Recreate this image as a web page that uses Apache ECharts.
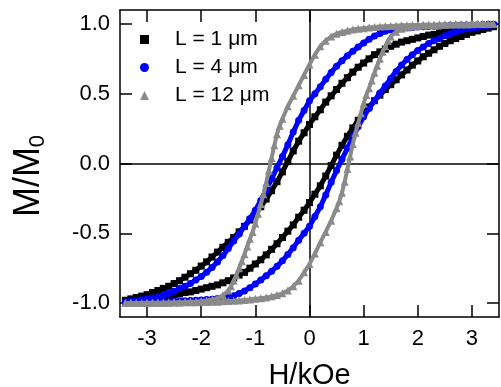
<!DOCTYPE html>
<html>
<head>
<meta charset="utf-8">
<script src="https://cdn.jsdelivr.net/npm/echarts@6/dist/echarts.min.js"></script>
<style>
html,body{margin:0;padding:0;background:#fff;}
#c{width:501px;height:387px;}
</style>
</head>
<body>
<div id="c"></div>
<script>
// Field sweep (kOe), shared by L = 1 and L = 4 um loops
const hGrid = [-3.4,-3.3,-3.2,-3.1,-3.0,-2.9,-2.8,-2.7,-2.6,-2.5,-2.4,-2.3,-2.2,-2.1,-2.0,-1.9,-1.8,-1.7,-1.6,-1.5,-1.4,-1.3,-1.2,-1.1,-1.0,-0.9,-0.8,-0.7,-0.6,-0.5,-0.4,-0.3,-0.2,-0.1,0,0.1,0.2,0.3,0.4,0.5,0.6,0.7,0.8,0.9,1.0,1.1,1.2,1.3,1.4,1.5,1.6,1.7,1.8,1.9,2.0,2.1,2.2,2.3,2.4,2.5,2.6,2.7,2.8,2.9,3.0,3.1,3.2,3.3,3.4];

// L = 1 um : descending (from +H) and ascending branches, values at hGrid
const l1Down = [-0.98,-0.97,-0.96,-0.95,-0.94,-0.925,-0.91,-0.895,-0.88,-0.86,-0.84,-0.815,-0.79,-0.765,-0.735,-0.705,-0.67,-0.635,-0.60,-0.565,-0.53,-0.49,-0.45,-0.405,-0.36,-0.31,-0.255,-0.195,-0.13,-0.06,0.015,0.09,0.16,0.22,0.28,0.335,0.385,0.44,0.485,0.53,0.575,0.615,0.655,0.69,0.72,0.75,0.78,0.80,0.82,0.84,0.855,0.87,0.88,0.89,0.90,0.91,0.92,0.925,0.935,0.94,0.95,0.955,0.96,0.965,0.97,0.975,0.98,0.985,0.99];
const l1Up = [-0.99,-0.985,-0.98,-0.975,-0.97,-0.965,-0.96,-0.955,-0.95,-0.94,-0.935,-0.925,-0.92,-0.91,-0.90,-0.89,-0.88,-0.87,-0.855,-0.84,-0.82,-0.80,-0.78,-0.75,-0.72,-0.69,-0.655,-0.615,-0.575,-0.53,-0.485,-0.44,-0.385,-0.335,-0.28,-0.22,-0.16,-0.09,-0.015,0.06,0.13,0.195,0.255,0.31,0.36,0.405,0.45,0.49,0.53,0.565,0.60,0.635,0.67,0.705,0.735,0.765,0.79,0.815,0.84,0.86,0.88,0.895,0.91,0.925,0.94,0.95,0.96,0.97,0.98];

// L = 4 um
const l4Down = [-0.992,-0.988,-0.983,-0.977,-0.97,-0.963,-0.955,-0.945,-0.93,-0.915,-0.895,-0.88,-0.86,-0.835,-0.81,-0.78,-0.745,-0.705,-0.66,-0.61,-0.555,-0.505,-0.45,-0.395,-0.335,-0.265,-0.19,-0.11,-0.03,0.05,0.135,0.225,0.31,0.38,0.45,0.50,0.55,0.603,0.652,0.697,0.737,0.772,0.805,0.835,0.863,0.89,0.913,0.932,0.948,0.957,0.963,0.968,0.972,0.975,0.978,0.98,0.982,0.984,0.986,0.988,0.99,0.991,0.992,0.993,0.994,0.995,0.996,0.997,0.998];
const l4Up = [-0.998,-0.997,-0.996,-0.995,-0.994,-0.993,-0.992,-0.991,-0.99,-0.988,-0.986,-0.984,-0.982,-0.98,-0.978,-0.975,-0.972,-0.968,-0.963,-0.957,-0.948,-0.932,-0.913,-0.89,-0.863,-0.835,-0.805,-0.772,-0.737,-0.697,-0.652,-0.603,-0.55,-0.50,-0.45,-0.38,-0.31,-0.225,-0.135,-0.05,0.03,0.11,0.19,0.265,0.335,0.395,0.45,0.505,0.555,0.61,0.66,0.705,0.745,0.78,0.81,0.835,0.86,0.88,0.895,0.915,0.93,0.945,0.955,0.963,0.97,0.977,0.983,0.988,0.992];

// L = 12 um : finer field steps through the steep switching parts
const l12DownH = [-3.4,-3.3,-3.2,-3.1,-3.0,-2.9,-2.8,-2.7,-2.6,-2.5,-2.4,-2.3,-2.2,-2.1,-2.0,-1.9,-1.8,-1.7,-1.6,-1.5,-1.45,-1.4,-1.35,-1.3,-1.25,-1.2,-1.15,-1.1,-1.05,-1.0,-0.95,-0.9,-0.85,-0.8,-0.75,-0.7,-0.65,-0.6,-0.55,-0.5,-0.4,-0.3,-0.2,-0.1,0,0.1,0.2,0.3,0.4,0.5,0.6,0.7,0.8,0.9,1.0,1.1,1.2,1.3,1.4,1.5,1.6,1.7,1.8,1.9,2.0,2.1,2.2,2.3,2.4,2.5,2.6,2.7,2.8,2.9,3.0,3.1,3.2,3.3,3.4];
const l12Down = [-1.0,-1.0,-0.999,-0.999,-0.998,-0.998,-0.997,-0.997,-0.996,-0.995,-0.994,-0.993,-0.991,-0.989,-0.986,-0.982,-0.975,-0.965,-0.945,-0.91,-0.88,-0.84,-0.80,-0.75,-0.70,-0.65,-0.595,-0.54,-0.49,-0.43,-0.36,-0.29,-0.22,-0.14,-0.05,0.04,0.13,0.21,0.27,0.32,0.41,0.485,0.56,0.635,0.71,0.78,0.84,0.88,0.91,0.93,0.943,0.952,0.96,0.965,0.97,0.974,0.978,0.981,0.984,0.986,0.988,0.99,0.991,0.992,0.993,0.994,0.995,0.995,0.996,0.996,0.997,0.997,0.998,0.998,0.999,0.999,1.0,1.0,1.0];
const l12UpH = [-3.4,-3.3,-3.2,-3.1,-3.0,-2.9,-2.8,-2.7,-2.6,-2.5,-2.4,-2.3,-2.2,-2.1,-2.0,-1.9,-1.8,-1.7,-1.6,-1.5,-1.4,-1.3,-1.2,-1.1,-1.0,-0.9,-0.8,-0.7,-0.6,-0.5,-0.4,-0.3,-0.2,-0.1,0,0.1,0.2,0.3,0.4,0.5,0.55,0.6,0.65,0.7,0.75,0.8,0.85,0.9,0.95,1.0,1.05,1.1,1.15,1.2,1.25,1.3,1.35,1.4,1.45,1.5,1.6,1.7,1.8,1.9,2.0,2.1,2.2,2.3,2.4,2.5,2.6,2.7,2.8,2.9,3.0,3.1,3.2,3.3,3.4];
const l12Up = [-1.0,-1.0,-1.0,-0.999,-0.999,-0.998,-0.998,-0.997,-0.997,-0.996,-0.996,-0.995,-0.995,-0.994,-0.993,-0.992,-0.991,-0.99,-0.988,-0.986,-0.984,-0.981,-0.978,-0.974,-0.97,-0.965,-0.96,-0.952,-0.943,-0.93,-0.91,-0.88,-0.84,-0.78,-0.72,-0.645,-0.565,-0.49,-0.41,-0.32,-0.27,-0.21,-0.13,-0.04,0.05,0.14,0.22,0.29,0.36,0.43,0.49,0.54,0.595,0.65,0.70,0.75,0.80,0.84,0.88,0.91,0.945,0.965,0.975,0.982,0.986,0.989,0.991,0.993,0.994,0.995,0.996,0.997,0.997,0.998,0.998,0.999,0.999,1.0,1.0];

const seriesNames = ['L = 1 \u03bcm', 'L = 4 \u03bcm', 'L = 12 \u03bcm'];
const xTicks = [-3, -2, -1, 0, 1, 2, 3];
const yTicks = [-1.0, -0.5, 0.0, 0.5, 1.0];

function loop(hDown, mDown, hUp, mUp) {
  const d = [];
  for (let i = hDown.length - 1; i >= 0; i--) d.push([hDown[i], mDown[i]]);
  for (let i = 0; i < hUp.length; i++) d.push([hUp[i], mUp[i]]);
  return d;
}

const chart = echarts.init(document.getElementById('c'), null, {renderer: 'canvas'});
const FONT = 'Liberation Sans, Arial, sans-serif';
const axisCommon = {
  type: 'value',
  axisLine: {show: true, onZero: false, lineStyle: {color: '#000', width: 1.5}},
  axisTick: {show: true, inside: true, length: 12, lineStyle: {color: '#000', width: 1.5}},
  splitLine: {show: false}
};
const option = {
  animation: false,
  backgroundColor: '#fff',
  grid: {left: 120, right: 2, top: 10, bottom: 70, containLabel: false, outerBoundsMode: 'none'},
  legend: {
    orient: 'vertical', left: 135, top: 24, itemGap: 7,
    itemWidth: 9, itemHeight: 9,
    textStyle: {fontFamily: FONT, fontSize: 21, color: '#000', lineHeight: 20, padding: [0, 0, 0, 21]},
    data: [
      {name: seriesNames[0], icon: 'rect', itemStyle: {color: '#000'}},
      {name: seriesNames[1], icon: 'circle', itemStyle: {color: '#0000ff'}},
      {name: seriesNames[2], icon: 'triangle', itemStyle: {color: '#8a8a8a'}}
    ]
  },
  graphic: [{
    type: 'text', x: 29, y: 176, rotation: Math.PI / 2,
    style: {
      text: '{m|M/M}{s|0}', align: 'center', verticalAlign: 'middle',
      rich: {
        m: {fontFamily: FONT, fontSize: 36, fill: '#000', lineHeight: 40},
        s: {fontFamily: FONT, fontSize: 22, fill: '#000', verticalAlign: 'bottom', padding: [16, 0, 0, 0], lineHeight: 22}
      }
    }
  }],
  xAxis: [
    Object.assign({}, axisCommon, {
      position: 'bottom', min: -3.5, max: 3.5,
      axisTick: Object.assign({}, axisCommon.axisTick, {customValues: xTicks}),
      axisLabel: {customValues: xTicks, margin: 11, fontFamily: FONT, fontSize: 22, color: '#000',
        formatter: v => String(v)},
      name: 'H/kOe', nameLocation: 'middle', nameGap: 44,
      nameTextStyle: {fontFamily: FONT, fontSize: 29, color: '#000'}
    }),
    Object.assign({}, axisCommon, {
      position: 'top', min: -3.5, max: 3.5,
      axisTick: Object.assign({}, axisCommon.axisTick, {customValues: xTicks}),
      axisLabel: {show: false}
    })
  ],
  yAxis: [
    Object.assign({}, axisCommon, {
      position: 'left', min: -1.1, max: 1.1,
      axisTick: Object.assign({}, axisCommon.axisTick, {customValues: yTicks}),
      axisLabel: {customValues: yTicks, margin: 10, fontFamily: FONT, fontSize: 22, color: '#000',
        formatter: v => v.toFixed(1)}
    }),
    Object.assign({}, axisCommon, {
      position: 'right', min: -1.1, max: 1.1,
      axisTick: Object.assign({}, axisCommon.axisTick, {customValues: yTicks}),
      axisLabel: {show: false}
    })
  ],
  series: [
    {
      type: 'line', name: '__zero', data: [], z: 1, silent: true,
      markLine: {
        z: 1, silent: true, symbol: 'none', animation: false,
        label: {show: false},
        lineStyle: {color: '#000', width: 1.5, type: 'solid'},
        emphasis: {disabled: true},
        data: [{xAxis: 0}, {yAxis: 0}]
      }
    },
    {
      type: 'line', name: seriesNames[0], z: 3,
      data: loop(hGrid, l1Down, hGrid, l1Up),
      symbol: 'rect', symbolSize: 7, showSymbol: true,
      lineStyle: {color: '#000', width: 5},
      itemStyle: {color: '#000'}
    },
    {
      type: 'line', name: seriesNames[1], z: 4,
      data: loop(hGrid, l4Down, hGrid, l4Up),
      symbol: 'circle', symbolSize: 7, showSymbol: true,
      lineStyle: {color: '#0000ff', width: 5},
      itemStyle: {color: '#0000ff'}
    },
    {
      type: 'line', name: seriesNames[2], z: 5,
      data: loop(l12DownH, l12Down, l12UpH, l12Up),
      symbol: 'triangle', symbolSize: 8, showSymbol: true,
      lineStyle: {color: '#8a8a8a', width: 4},
      itemStyle: {color: '#8a8a8a'}
    }
  ]
};
chart.setOption(option);
</script>
</body>
</html>
